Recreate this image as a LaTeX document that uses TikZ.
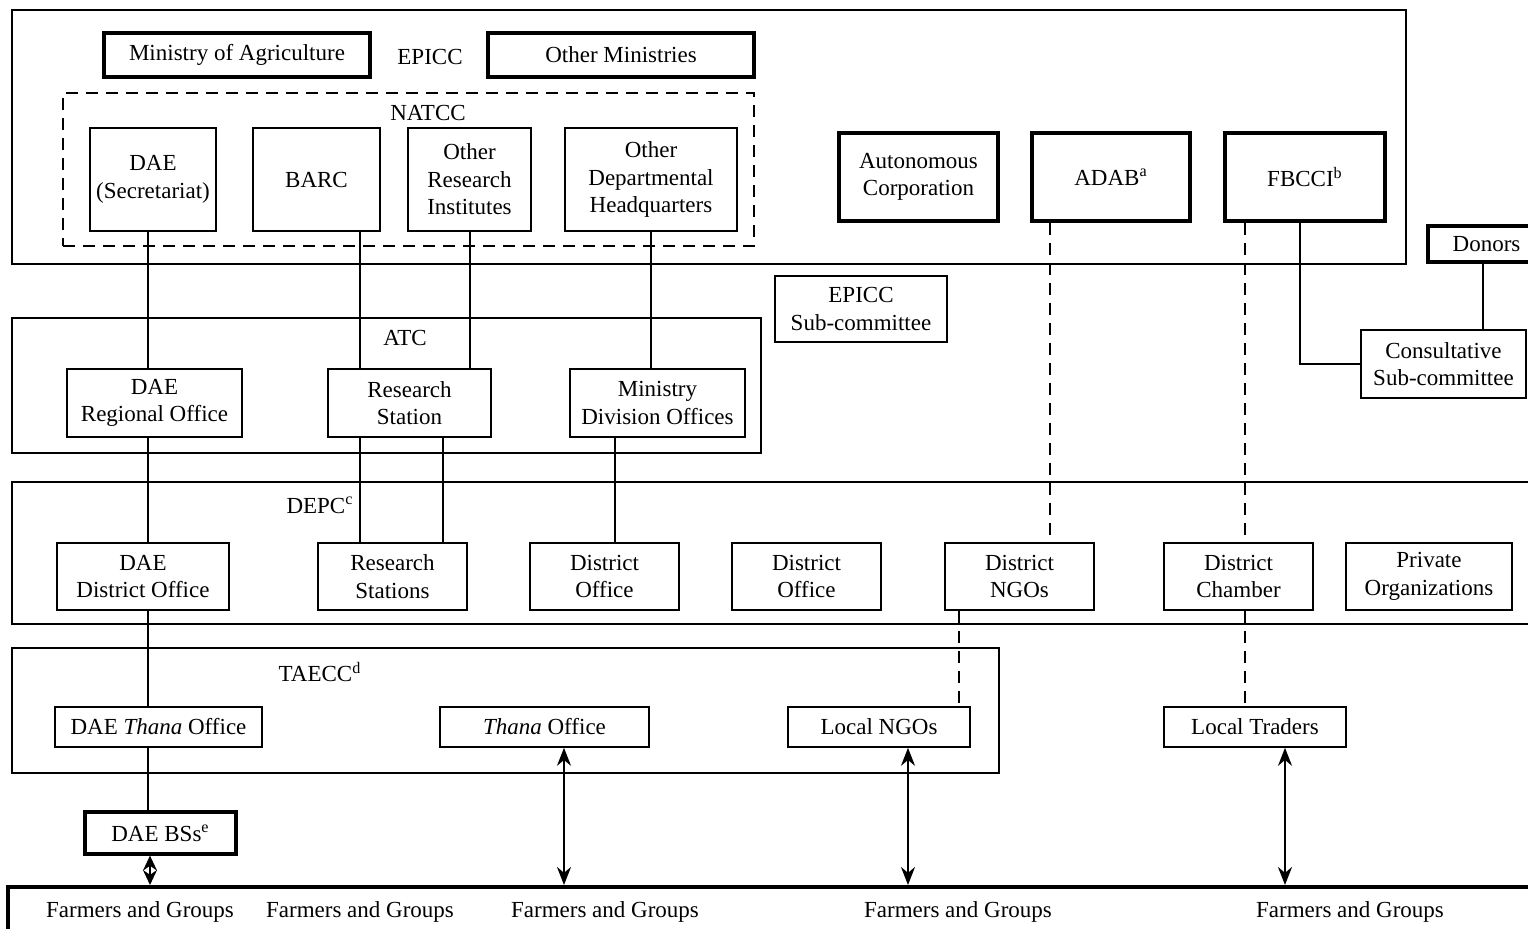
\documentclass[tikz,border=0pt]{standalone}
\usepackage{fontspec}
\setmainfont{Liberation Serif}
\usepackage{tikz}
\usetikzlibrary{arrows.meta}
\tikzstyle{panel} = [rectangle, draw=black, line width=0.8pt, inner sep=0pt]
\tikzstyle{dashpanel} = [panel, dash pattern=on 6pt off 4pt]
\tikzstyle{unitbox} = [rectangle, draw=black, line width=0.8pt, inner sep=0pt, align=center, text centered]
\tikzstyle{keybox} = [unitbox, line width=1.6pt]
\tikzstyle{label} = [inner sep=0pt]
\tikzstyle{link} = [line width=0.8pt]
\tikzstyle{dashlink} = [line width=0.8pt, dash pattern=on 6pt off 4pt]
\tikzstyle{arrow} = [line width=1pt, {Stealth[length=9pt,width=7pt]}-{Stealth[length=9pt,width=7pt]}]
\tikzstyle{shortarrow} = [line width=1pt, {Stealth[length=7.5pt,width=7pt]}-{Stealth[length=7.5pt,width=7pt]}]

\begin{document}
\begin{tikzpicture}[x=0.5pt, y=-0.5pt, font=\fontsize{11.5}{13.7}\selectfont]
  \useasboundingbox (0,0) rectangle (1528,928);

  \node (epicc) [panel, minimum width=697pt, minimum height=127pt] at (709,137) {};
  \node (natcc) [dashpanel, minimum width=345.5pt, minimum height=76.5pt] at (408.5,169.5) {};
  \node (atc) [panel, minimum width=374.5pt, minimum height=67.5pt] at (386.5,385.5) {};
  \node (depc) [panel, minimum width=774pt, minimum height=71pt] at (786,553) {};
  \node (taecc) [panel, minimum width=493.5pt, minimum height=62.5pt] at (505.5,710.5) {};
  \node (farm) [panel, line width=2pt, minimum width=776pt, minimum height=36.5pt] at (784,923.5) {};

  \node (lepicc) [label] at (430,57) {EPICC};
  \node (lnatcc) [label] at (428,113) {NATCC};
  \node (latc) [label] at (405,338) {ATC};
  \node (ldepc) [label] at (320,505) {DEPC\textsuperscript{c}};
  \node (ltaecc) [label] at (320,672) {TAECC\textsuperscript{d}};

  \node (moa) [keybox, minimum width=133pt, minimum height=22pt] at (237,55) {Ministry of Agriculture};
  \node (othmin) [keybox, minimum width=133pt, minimum height=22pt] at (621,55) {Other Ministries};
  \node (daesec) [unitbox, minimum width=63pt, minimum height=51.5pt] at (153,179.5) {DAE\\(Secretariat)};
  \node (barc) [unitbox, minimum width=63.5pt, minimum height=51.5pt] at (316.5,179.5) {BARC};
  \node (ori) [unitbox, minimum width=61.5pt, minimum height=51.5pt] at (469.5,179.5) {Other\\Research\\Institutes};
  \node (odh) [unitbox, minimum width=86pt, minimum height=51.5pt] at (651,179.5) {Other\\Departmental\\Headquarters};
  \node (auto) [keybox, minimum width=79.5pt, minimum height=44pt] at (918.5,177) {Autonomous\\Corporation};
  \node (adab) [keybox, minimum width=79pt, minimum height=44pt] at (1111,177) {ADAB\textsuperscript{a}};
  \node (fbcci) [keybox, minimum width=80pt, minimum height=44pt] at (1305,177) {FBCCI\textsuperscript{b}};
  \node (donors) [keybox, minimum width=58.5pt, minimum height=18pt] at (1486.5,244) {Donors};
  \node (epiccsub) [unitbox, minimum width=86pt, minimum height=33pt] at (861,309) {EPICC\\Sub-committee};
  \node (consult) [unitbox, minimum width=82.5pt, minimum height=34pt] at (1443.5,364) {Consultative\\Sub-committee};

  \node (daereg) [unitbox, minimum width=87.5pt, minimum height=34pt] at (154.5,403) {DAE\\Regional Office};
  \node (resst) [unitbox, minimum width=81.5pt, minimum height=34pt] at (409.5,403) {Research\\Station};
  \node (mdo) [unitbox, minimum width=87.5pt, minimum height=34pt] at (657.5,403) {Ministry\\Division Offices};

  \node (daedist) [unitbox, minimum width=86pt, minimum height=33.5pt] at (143,576.5) {DAE\\District Office};
  \node (ress) [unitbox, minimum width=74.5pt, minimum height=33.5pt] at (392.5,576.5) {Research\\Stations};
  \node (dist1) [unitbox, minimum width=74.5pt, minimum height=33.5pt] at (604.5,576.5) {District\\Office};
  \node (dist2) [unitbox, minimum width=74.5pt, minimum height=33.5pt] at (806.5,576.5) {District\\Office};
  \node (dngo) [unitbox, minimum width=74.5pt, minimum height=33.5pt] at (1019.5,576.5) {District\\NGOs};
  \node (dcham) [unitbox, minimum width=74.5pt, minimum height=33.5pt] at (1238.5,576.5) {District\\Chamber};
  \node (priv) [unitbox, minimum width=83pt, minimum height=33.5pt] at (1429,576.5) {Private\\Organizations};

  \node (daethana) [unitbox, minimum width=103.5pt, minimum height=20pt] at (158.5,727) {DAE \textit{Thana} Office};
  \node (thana) [unitbox, minimum width=104.5pt, minimum height=20pt] at (544.5,727) {\textit{Thana} Office};
  \node (lngo) [unitbox, minimum width=91pt, minimum height=20pt] at (879,727) {Local NGOs};
  \node (ltrade) [unitbox, minimum width=91pt, minimum height=20pt] at (1255,727) {Local Traders};
  \node (dbs) [keybox, minimum width=75.5pt, minimum height=21pt] at (160.5,833) {DAE BSs\textsuperscript{e}};

  \node (f1) [label] at (140,912) {Farmers and Groups};
  \node (f2) [label] at (360,912) {Farmers and Groups};
  \node (f3) [label] at (605,912) {Farmers and Groups};
  \node (f4) [label] at (958,912) {Farmers and Groups};
  \node (f5) [label] at (1350,912) {Farmers and Groups};

  \coordinate (xdae) at (148,0);
  \coordinate (xbss) at (150,0);
  \coordinate (xbarc) at (360,0);
  \coordinate (xres) at (443,0);
  \coordinate (xori) at (470,0);
  \coordinate (xthana) at (564,0);
  \coordinate (xmdo) at (615,0);
  \coordinate (xodh) at (651,0);
  \coordinate (xlngo) at (908,0);
  \coordinate (xngo) at (959,0);
  \coordinate (xadab) at (1050,0);
  \coordinate (xcham) at (1245,0);
  \coordinate (xtrade) at (1285,0);
  \coordinate (xfb) at (1300,0);
  \coordinate (xdon) at (1483,0);

  \draw [link] (daesec.south -| xdae) -- (daereg.north -| xdae);
  \draw [link] (daereg.south -| xdae) -- (daedist.north -| xdae);
  \draw [link] (daedist.south -| xdae) -- (daethana.north -| xdae);
  \draw [link] (daethana.south -| xdae) -- (dbs.north -| xdae);
  \draw [link] (barc.south -| xbarc) -- (resst.north -| xbarc);
  \draw [link] (ori.south -| xori) -- (resst.north -| xori);
  \draw [link] (odh.south -| xodh) -- (mdo.north -| xodh);
  \draw [link] (resst.south -| xbarc) -- (ress.north -| xbarc);
  \draw [link] (resst.south -| xres) -- (ress.north -| xres);
  \draw [link] (mdo.south -| xmdo) -- (dist1.north -| xmdo);
  \draw [link] (fbcci.south -| xfb) |- (consult.west);
  \draw [link] (donors.south -| xdon) -- (consult.north -| xdon);
  \draw [dashlink] (adab.south -| xadab) -- (dngo.north -| xadab);
  \draw [dashlink] (fbcci.south -| xcham) -- (dcham.north -| xcham);
  \draw [dashlink] (dcham.south -| xcham) -- (ltrade.north -| xcham);
  \draw [dashlink] (dngo.south -| xngo) -- (lngo.north -| xngo);
  \draw [shortarrow] (dbs.south -| xbss) -- (farm.north -| xbss);
  \draw [arrow] (thana.south -| xthana) -- (farm.north -| xthana);
  \draw [arrow] (lngo.south -| xlngo) -- (farm.north -| xlngo);
  \draw [arrow] (ltrade.south -| xtrade) -- (farm.north -| xtrade);
\end{tikzpicture}
\end{document}
